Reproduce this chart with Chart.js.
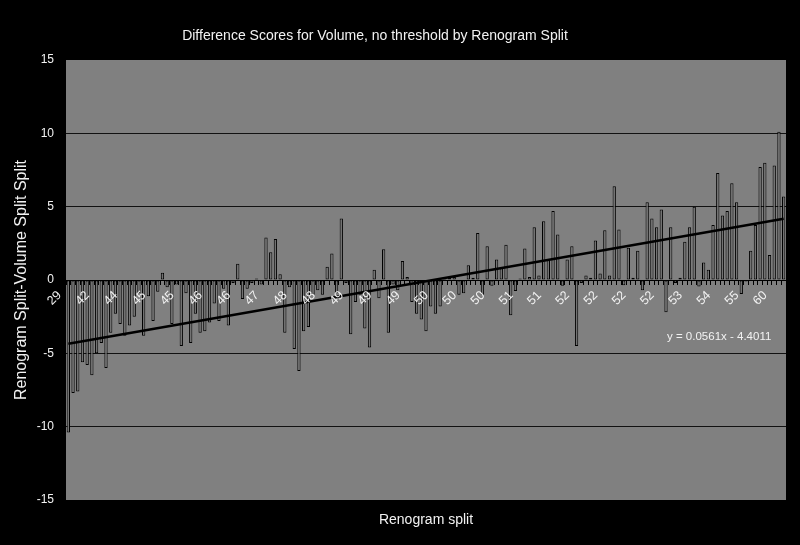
<!DOCTYPE html>
<html>
<head>
<meta charset="utf-8">
<title>Difference Scores for Volume</title>
<script src="https://cdn.jsdelivr.net/npm/chart.js@4.4.1/dist/chart.umd.min.js"></script>
<style>
  html, body { margin: 0; padding: 0; background: #000; }
  #chart { display: block; }
</style>
</head>
<body>
<canvas id="chart" width="800" height="545"></canvas>
<script>
/********************
 * Data
 ********************/
const chartTitle = "Difference Scores for Volume, no threshold by Renogram Split";
const yTitle = "Renogram Split-Volume Split Split";
const xTitle = "Renogram split";
const trendText = "y = 0.0561x - 4.4011";

// every 6th category carries a label
const tickLabels = ["29","42","44","45","45","46","46","47","48","48","49","49","49",
  "50","50","50","51","51","52","52","52","52","53","54","55","60"];

const diffScores = [
  -10.4, -7.7, -7.6, -5.6, -5.8, -6.5, -5.0, -4.3, -6.0, -3.6,
  -2.3, -3.0, -3.8, -3.1, -2.5, -0.9, -3.8, -1.1, -2.8, -0.8,
  0.5, -0.5, -3.0, -0.3, -4.5, -0.9, -4.3, -2.3, -3.6, -3.5,
  -2.9, -1.6, -2.8, -0.6, -3.1, -0.2, 1.1, -1.3, -0.6, -0.2,
  0.1, -0.3, 2.9, 1.9, 2.8, 0.4, -3.6, -0.5, -4.7, -6.2,
  -3.5, -3.2, -1.0, -0.7, -1.0, 0.9, 1.8, -0.9, 4.2, -0.2,
  -3.7, -1.5, -1.0, -3.3, -4.6, 0.7, -1.25, 2.1, -3.6, -0.3,
  -0.7, 1.3, 0.2, -1.5, -2.3, -2.7, -3.5, -1.8, -2.3, -1.8,
  0.1, 0.15, 0.2, -1.0, -0.9, 1.0, 0.15, 3.2, -1.0, 2.3,
  -0.4, 1.4, 0.8, 2.4, -2.4, -0.75, 0.1, 2.15, 0.2, 3.6,
  0.3, 4.0, 1.4, 4.7, 3.1, -0.4, 1.4, 2.3, -4.5, -0.2,
  0.3, 0.15, 2.7, 0.45, 3.4, 0.3, 6.4, 3.45, -0.35, 2.2,
  0.15, 2.0, -0.7, 5.3, 4.2, 3.6, 4.8, -2.2, 3.6, -0.2,
  0.15, 2.6, 3.6, 5.0, -0.45, 1.2, 0.7, 3.75, 7.3, 4.4,
  4.7, 6.6, 5.3, -0.95, -0.1, 2.0, 3.75, 7.7, 8.0, 1.7,
  7.8, 10.1, 5.7
];

// linear trend, value at first and last category
const trendEnds = [-4.35, 4.18];

// where the trend equation sits (category index, value)
const trendLabelAt = [138.3, -3.9];

/********************
 * Build
 ********************/
const categories = diffScores.map((v, i) => String(i + 1));
const trendData = diffScores.map((v, i) => {
  if(i === 0) return trendEnds[0];
  if(i === diffScores.length - 1) return trendEnds[1];
  return null;
});

const textColor = "#f2f2f2";
const fontFamily = "'Liberation Sans', Arial, sans-serif";

const backdrop = {
  id: "backdrop",
  beforeDraw(chart){
    const { ctx, chartArea } = chart;
    ctx.save();
    ctx.fillStyle = "#000";
    ctx.fillRect(0, 0, chart.width, chart.height);
    ctx.fillStyle = "#808080";
    ctx.fillRect(chartArea.left, chartArea.top, chartArea.right - chartArea.left, chartArea.bottom - chartArea.top);
    ctx.restore();
  }
};

const annotations = {
  id: "annotations",
  afterDraw(chart){
    const { ctx } = chart;
    const xs = chart.scales.x;
    const ys = chart.scales.y;
    ctx.save();
    ctx.fillStyle = textColor;
    ctx.textAlign = "center";
    ctx.textBaseline = "middle";
    ctx.font = "14px " + fontFamily;
    ctx.fillText(chartTitle, 375, 36);
    ctx.font = "11.5px " + fontFamily;
    ctx.fillText(trendText, xs.getPixelForValue(trendLabelAt[0]), ys.getPixelForValue(trendLabelAt[1]));
    ctx.restore();
  }
};

new Chart(document.getElementById("chart"), {
  data: {
    labels: categories,
    datasets: [
      {
        type: "line",
        data: trendData,
        spanGaps: true,
        borderColor: "#000",
        borderWidth: 2.5,
        pointRadius: 0,
        order: 0
      },
      {
        type: "bar",
        data: diffScores,
        backgroundColor: "#737373",
        borderColor: "#000",
        borderWidth: 1,
        borderSkipped: false,
        barPercentage: 0.7,
        categoryPercentage: 1,
        order: 1
      }
    ]
  },
  options: {
    responsive: false,
    animation: false,
    layout: { padding: { top: 60, right: 14, left: 0, bottom: 0 } },
    plugins: {
      legend: { display: false },
      tooltip: { enabled: false },
      title: { display: false }
    },
    scales: {
      x: {
        type: "category",
        position: { y: 0 },
        offset: true,
        grid: {
          drawOnChartArea: false,
          drawTicks: true,
          tickLength: 4,
          color: "#000",
          z: 1
        },
        border: { display: true, color: "#000", width: 1, z: 1 },
        ticks: {
          z: 2,
          autoSkip: false,
          minRotation: 45,
          maxRotation: 45,
          padding: 4,
          labelOffset: -9,
          color: textColor,
          font: { family: fontFamily, size: 12.5 },
          callback: (val, i) => (i % 6 === 0 ? tickLabels[i / 6] : "")
        }
      },
      x2: {
        type: "category",
        position: "bottom",
        grid: { display: false },
        border: { display: false },
        ticks: { display: false },
        title: {
          display: true,
          text: xTitle,
          color: textColor,
          font: { family: fontFamily, size: 14 },
          padding: { top: 0, bottom: 16 }
        },
        afterFit(scale){ scale.height = 45; }
      },
      y: {
        min: -15,
        max: 15,
        grid: {
          drawTicks: false,
          color: ctx => (Math.abs(ctx.tick.value) === 15 ? "rgba(0,0,0,0)" : "#111"),
          lineWidth: 1
        },
        border: { display: false },
        ticks: {
          stepSize: 5,
          padding: 12,
          color: textColor,
          font: { family: fontFamily, size: 12 }
        },
        title: {
          display: true,
          text: yTitle,
          color: textColor,
          font: { family: fontFamily, size: 16 },
          padding: { top: 12, bottom: 0 }
        },
        afterFit(scale){ scale.width = 66; }
      }
    }
  },
  plugins: [backdrop, annotations]
});
</script>
</body>
</html>
